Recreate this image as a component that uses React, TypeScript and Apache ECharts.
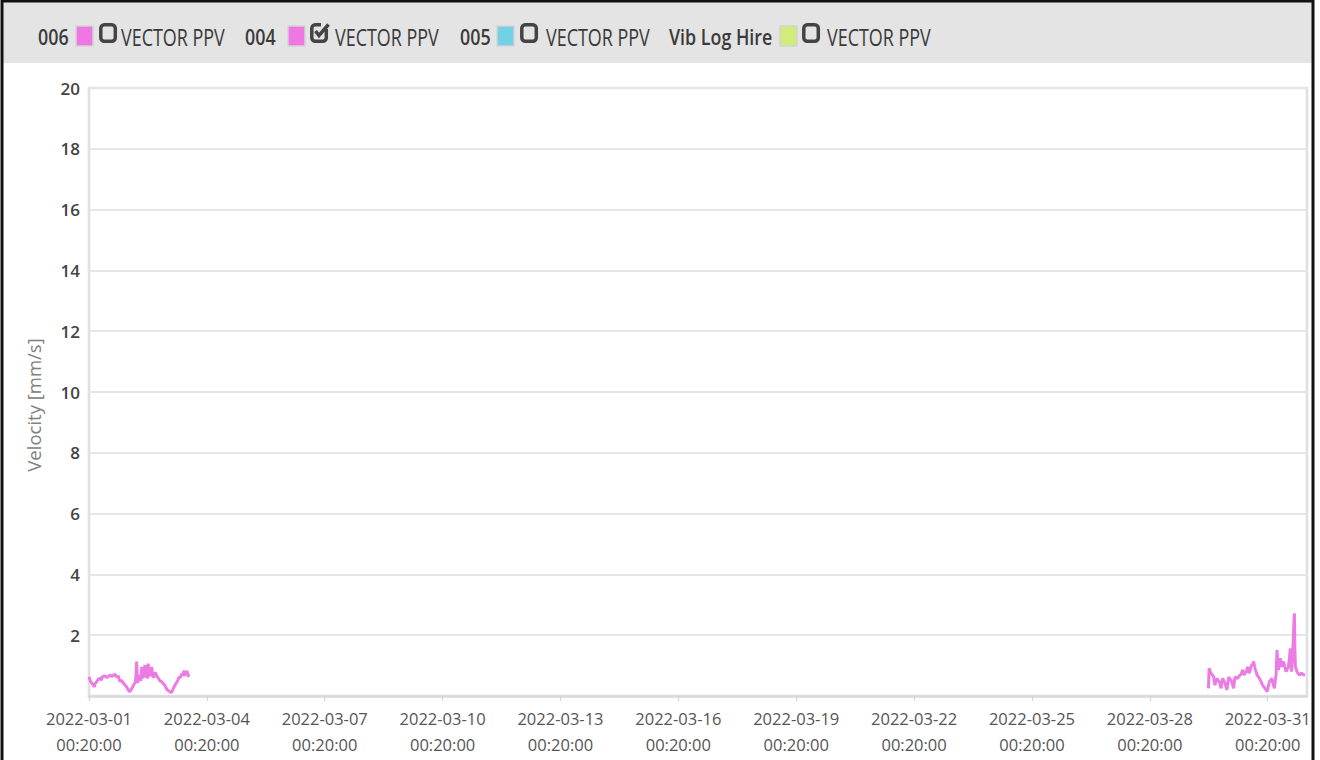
import React, { useEffect, useRef } from "react";
import * as echarts from "echarts";

// X ticks every 3 days starting at 2022-03-01 00:20:00 (x values are hours since start)
const xTickDates = [
  "2022-03-01", "2022-03-04", "2022-03-07", "2022-03-10", "2022-03-13", "2022-03-16",
  "2022-03-19", "2022-03-22", "2022-03-25", "2022-03-28", "2022-03-31",
];
const xTickTime = "00:20:00";
const X_MAX_HOURS = 744; // 2022-04-01 00:20:00
const X_TICK_HOURS = 72;

const yMin = 0;
const yMax = 20;
const yInterval = 2;

const seg1Hours = [
  0, 0.8, 1.6, 2.3, 3.1, 3.9, 4.7, 5.7, 6.7, 7.5, 8.3, 9.8, 11, 12.8, 14, 15.9, 16.8, 17.9,
  18.9, 19.8, 20.9, 22, 23.0, 24, 25.0, 25.8, 26.7, 27.4, 28.1, 28.6, 29.1, 29.7, 30.4, 31.1,
  31.7, 32.2, 32.7, 33.2, 33.7, 34.2, 34.7, 35.2, 35.7, 36.2, 36.7, 37.2, 37.8, 38.3, 39,
  39.7, 40.3, 40.9, 41.6, 42.3, 43.3, 44.4, 45.4, 46.4, 47.1, 47.8, 48.6, 49.5, 50.3, 51.1,
  51.8, 52.5, 53.2, 53.9, 54.5, 55.1, 55.8, 56.6, 57.3, 58.0, 58.6, 59.2, 59.6, 60.0, 60.6,
  61.2,
];
const seg1Values = [
  0.63, 0.5, 0.43, 0.38, 0.3, 0.42, 0.47, 0.55, 0.59, 0.52, 0.64, 0.66, 0.6, 0.69, 0.64, 0.72,
  0.62, 0.66, 0.47, 0.52, 0.43, 0.36, 0.3, 0.2, 0.14, 0.22, 0.3, 0.38, 0.43, 0.6, 1.13, 0.43,
  0.55, 0.69, 0.5, 0.96, 0.6, 0.63, 0.8, 1.02, 0.62, 0.73, 0.58, 1.07, 0.65, 0.69, 0.72, 0.96,
  0.62, 0.63, 0.78, 0.73, 0.64, 0.59, 0.5, 0.47, 0.4, 0.35, 0.26, 0.2, 0.17, 0.14, 0.11, 0.19,
  0.28, 0.35, 0.42, 0.47, 0.55, 0.63, 0.6, 0.73, 0.66, 0.84, 0.7, 0.69, 0.82, 0.79, 0.68,
  0.63,
];

const seg2Hours = [
  683.8, 684.2, 684.8, 685.4, 686.2, 687.0, 687.4, 687.8, 688.4, 689.1, 689.8, 690.5, 691,
  691.5, 692, 692.5, 693.2, 693.9, 694.5, 695.1, 695.6, 696.2, 696.9, 697.6, 698.4, 699.2,
  699.6, 700.0, 700.8, 701.6, 702.5, 703.3, 704, 704.7, 705.2, 705.7, 706.4, 707.0, 707.4,
  707.8, 708.3, 708.8, 709.5, 710.2, 710.8, 711.4, 712, 712.5, 713, 713.5, 714.2, 714.9,
  715.5, 716.0, 716.5, 716.9, 717.6, 718.4, 719, 719.6, 720.3, 721.0, 721.8, 722.5, 723.3,
  724.1, 724.6, 725.1, 725.4, 725.7, 726.1, 726.5, 727.1, 727.7, 728.1, 728.5, 729.1, 729.7,
  730.5, 731.2, 731.9, 732.6, 733.2, 733.8, 734.2, 734.6, 735.1, 735.6, 736.0, 736.3, 736.6,
  736.9, 737.4, 737.9, 738.6, 739.3, 740, 740.7, 741.7, 742.8,
];
const seg2Values = [
  0.25, 0.91, 0.82, 0.75, 0.7, 0.63, 0.45, 0.36, 0.5, 0.58, 0.5, 0.47, 0.35,
  0.25, 0.45, 0.58, 0.5, 0.42, 0.3, 0.2, 0.4, 0.63, 0.55, 0.53, 0.4, 0.25,
  0.45, 0.63, 0.6, 0.58, 0.66, 0.69, 0.75, 0.86, 0.74, 0.69, 0.78, 0.8, 0.9,
  0.96, 0.82, 0.75, 0.9, 1.02, 1.05, 1.13, 0.98, 0.86, 0.78, 0.69, 0.64, 0.58,
  0.52, 0.47, 0.4, 0.36, 0.3, 0.25, 0.2, 0.14, 0.3, 0.47, 0.52, 0.58, 0.4,
  0.25, 0.5, 0.69, 1.1, 1.51, 1.1, 0.86, 1.0, 1.24, 1.08, 0.96, 1.05, 1.13,
  0.95, 0.8, 0.88, 0.96, 1.2, 1.57, 1.1, 0.8, 1.2, 1.84, 2.4, 2.72, 1.6,
  0.96, 0.88, 0.8, 0.74, 0.69, 0.72, 0.75, 0.7, 0.69,
];

const legendItems = [
  { name: "006", color: "#ee77e4", checked: false },
  { name: "004", color: "#ee77e4", checked: true },
  { name: "005", color: "#72d2e4", checked: false },
  { name: "Vib Log Hire", color: "#d2ec7c", checked: false },
];
const legendSuffix = "VECTOR PPV";

const LINE_COLOR = "#ec7ce4";
const FONT = "'Open Sans', sans-serif";

function buildLegend(): any[] {
  const els: any[] = [];
  // legend item x positions (layout only)
  const nameX = [38, 245, 460, 669];
  const boxX = [76, 288, 497, 780];
  const chkX = [99, 310, 520, 802];
  const txtX = [121, 335, 546, 827];
  const cy = 37;
  legendItems.forEach((it, i) => {
    els.push({
      type: "text",
      x: nameX[i],
      y: cy,
      scaleX: 0.85,
      style: {
        text: it.name,
        font: `600 21px ${FONT}`,
        fill: "#3a3a3a",
        align: "left",
        verticalAlign: "middle",
      },
    });
    els.push({
      type: "rect",
      shape: { x: boxX[i], y: cy - 11, width: 17, height: 20 },
      style: { fill: it.color, stroke: "#d4d4d4", lineWidth: 1.5 },
    });
    els.push({
      type: "rect",
      shape: { x: chkX[i] + 1.8, y: cy - 12.2, width: 14.5, height: 16.5, r: 3.5 },
      style: { fill: "none", stroke: "#444", lineWidth: 3.5 },
    });
    if (it.checked) {
      els.push({
        type: "rect",
        shape: { x: chkX[i] + 11, y: cy - 15, width: 7, height: 7 },
        style: { fill: "#e4e4e4" },
      });
      els.push({
        type: "polyline",
        shape: {
          points: [
            [chkX[i] + 5.5, cy - 6],
            [chkX[i] + 9, cy - 1.5],
            [chkX[i] + 18.5, cy - 12.5],
          ],
        },
        style: { fill: "none", stroke: "#444", lineWidth: 3.5 },
      });
    }
    els.push({
      type: "text",
      x: txtX[i],
      y: cy,
      scaleX: 0.78,
      style: {
        text: legendSuffix,
        font: `23px ${FONT}`,
        fill: "#3a3a3a",
        align: "left",
        verticalAlign: "middle",
      },
    });
  });
  return els;
}

export default function App() {
  const ref = useRef<HTMLDivElement>(null);
  useEffect(() => {
    if (!ref.current) return;
    const chart = echarts.init(ref.current, undefined, { renderer: "svg" });
    const data: any[] = [];
    seg1Hours.forEach((h, i) => data.push([h, seg1Values[i]]));
    data.push([(seg1Hours[seg1Hours.length - 1] + seg2Hours[0]) / 2, null]);
    seg2Hours.forEach((h, i) => data.push([h, seg2Values[i]]));

    chart.setOption({
      animation: false,
      backgroundColor: "#ffffff",
      graphic: [
        {
          type: "rect",
          z: -10,
          shape: { x: 3, y: 2, width: 1310, height: 61 },
          style: { fill: "#e4e4e4" },
        },
        {
          type: "rect",
          z: 100,
          shape: { x: 2, y: 1, width: 1311, height: 800 },
          style: { fill: "none", stroke: "#111", lineWidth: 3 },
        },
        ...buildLegend(),
      ],
      grid: {
        left: 89,
        right: 13,
        top: 88,
        bottom: 64,
        show: true,
        borderColor: "#e0e0e0",
        borderWidth: 2.5,
      },
      xAxis: {
        type: "value",
        min: 0,
        max: X_MAX_HOURS,
        interval: X_TICK_HOURS,
        axisLine: { show: true, lineStyle: { color: "#dadada", width: 2.5 } },
        axisTick: { show: true, length: 5, lineStyle: { color: "#d0d0d0" } },
        splitLine: { show: false },
        axisLabel: {
          showMaxLabel: false,
          margin: 9,
          color: "#555",
          fontFamily: FONT,
          fontSize: 16.5,
          lineHeight: 26,
          formatter: (v: number) => {
            const idx = Math.round(v / X_TICK_HOURS);
            if (Math.abs(v - idx * X_TICK_HOURS) > 0.01 || !xTickDates[idx]) return "";
            return `${xTickDates[idx]}\n${xTickTime}`;
          },
        },
      },
      yAxis: {
        type: "value",
        min: yMin,
        max: yMax,
        interval: yInterval,
        name: "Velocity [mm/s]",
        nameLocation: "middle",
        nameGap: 46,
        nameTextStyle: {
          color: "#808080",
          fontFamily: FONT,
          fontSize: 18.5,
          padding: [0, 26, 0, 0],
        },
        axisLine: { show: false },
        axisTick: { show: false },
        splitLine: { show: true, lineStyle: { color: "#e6e6e6", width: 2 } },
        axisLabel: {
          margin: 9,
          color: "#444",
          fontFamily: FONT,
          fontSize: 17,
          fontWeight: 600,
          formatter: (v: number) => (v === 0 ? "" : String(v)),
        },
      },
      series: [
        {
          name: "004 VECTOR PPV",
          type: "line",
          data,
          showSymbol: false,
          connectNulls: false,
          lineStyle: { color: LINE_COLOR, width: 3 },
          itemStyle: { color: LINE_COLOR },
        },
      ],
    });
    return () => chart.dispose();
  }, []);
  return (
    <div
      ref={ref}
      style={{ position: "absolute", left: 0, top: 0, width: 1320, height: 760 }}
    />
  );
}
